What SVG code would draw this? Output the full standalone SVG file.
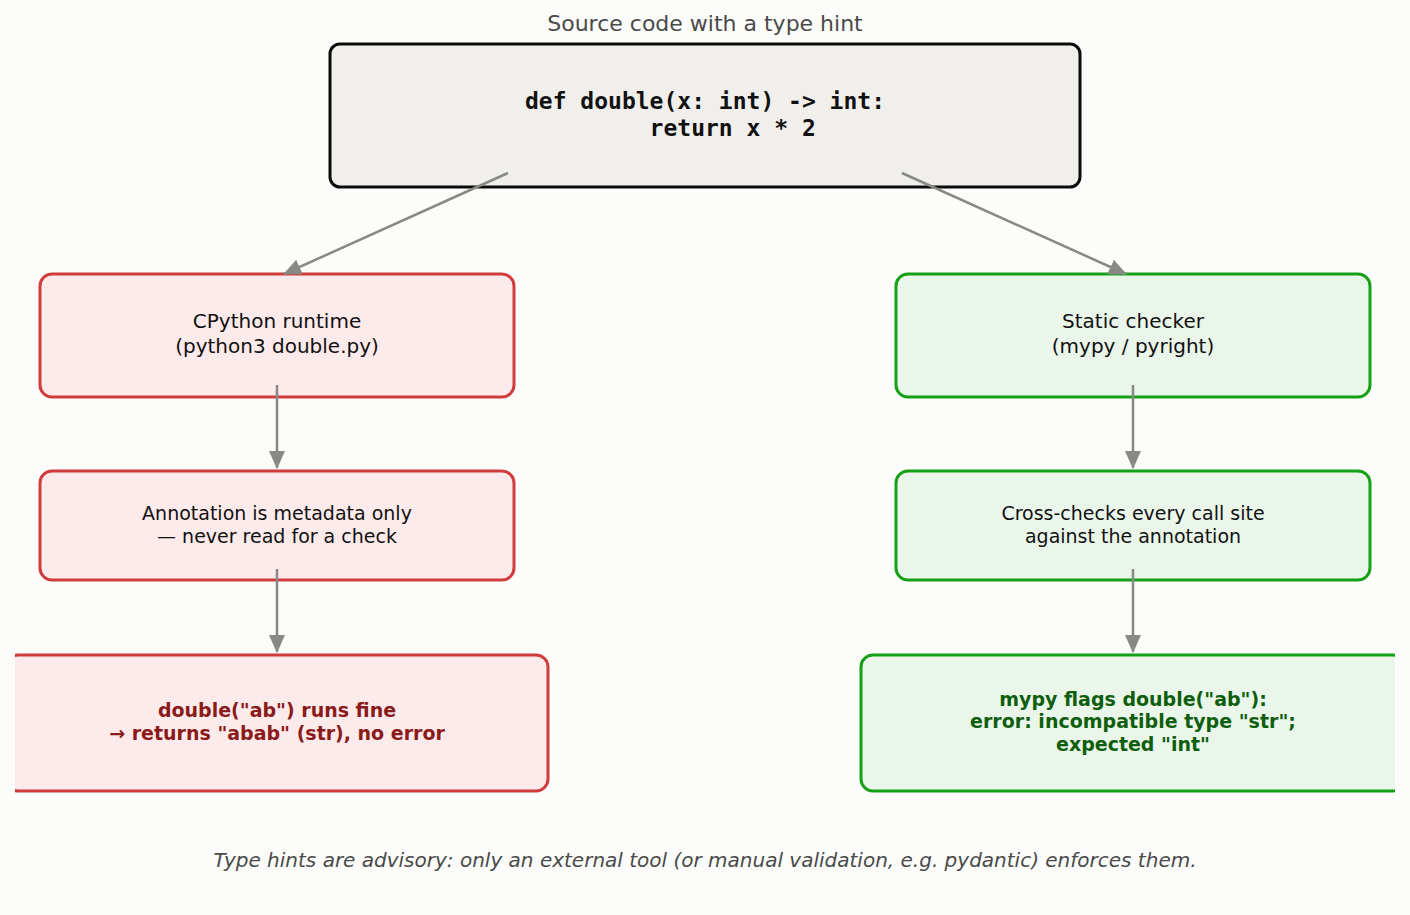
<svg xmlns="http://www.w3.org/2000/svg" width="1410" height="915" viewBox="0 0 1410 915">
<style>
text{font-family:"DejaVu Sans","Liberation Sans",sans-serif;text-anchor:middle}
.title{font-size:22px;fill:#4a4a4a}
.code{font-family:"DejaVu Sans Mono","Liberation Mono",monospace;font-weight:bold;font-size:23px;fill:#111;white-space:pre}
.lg{font-size:20px;fill:#111}
.md{font-size:19px;fill:#111}
.bred{font-size:19px;font-weight:bold;fill:#8b1a1a}
.bgrn{font-size:19px;font-weight:bold;fill:#0e5e0e}
.foot{font-size:20px;font-style:italic;fill:#4a4a4a}
.red{fill:#fdeaea;stroke:#d03c3c;stroke-width:3}
.grn{fill:#eaf6ea;stroke:#15a015;stroke-width:3}
.conn{stroke:#888884;stroke-width:2.5;fill:none;marker-end:url(#ah)}
</style>
<defs>
<marker id="ah" markerUnits="userSpaceOnUse" markerWidth="18" markerHeight="18" viewBox="0 0 18 18" refX="17" refY="9" orient="auto">
<path d="M0,1 L18,9 L0,17 z" fill="#888884"/>
</marker>
<clipPath id="cl"><rect x="15" y="0" width="1380" height="915"/></clipPath>
</defs>
<rect width="1410" height="915" fill="#fcfcfa"/>
<text class="title" x="705" y="30.5">Source code with a type hint</text>
<g clip-path="url(#cl)">
<g id="src">
<rect x="330" y="44" width="750" height="143" rx="10" fill="#f0efeb" stroke="#0a0a0a" stroke-width="3"/>
<text class="code" x="705" y="109" xml:space="preserve">def double(x: int) -&gt; int:</text>
<text class="code" x="705" y="136" xml:space="preserve">    return x * 2</text>
</g>
<g id="runtime">
<rect class="red" x="40" y="274" width="474" height="123" rx="12"/>
<text class="lg" x="277" y="328">CPython runtime</text>
<text class="lg" x="277" y="353">(python3 double.py)</text>
</g>
<g id="metadata">
<rect class="red" x="40" y="471" width="474" height="109" rx="12"/>
<text class="md" x="277" y="519.5">Annotation is metadata only</text>
<text class="md" x="277" y="542.5">— never read for a check</text>
</g>
<g id="runs">
<rect class="red" x="6" y="655" width="542" height="136" rx="12"/>
<text class="bred" x="277" y="716.5">double("ab") runs fine</text>
<text class="bred" x="277" y="739.5">→ returns "abab" (str), no error</text>
</g>
<g id="checker">
<rect class="grn" x="896" y="274" width="474" height="123" rx="12"/>
<text class="lg" x="1133" y="328">Static checker</text>
<text class="lg" x="1133" y="353">(mypy / pyright)</text>
</g>
<g id="crosscheck">
<rect class="grn" x="896" y="471" width="474" height="109" rx="12"/>
<text class="md" x="1133" y="519.5">Cross-checks every call site</text>
<text class="md" x="1133" y="542.5">against the annotation</text>
</g>
<g id="flags">
<rect class="grn" x="861" y="655" width="544" height="136" rx="12"/>
<text class="bgrn" x="1133" y="705.5">mypy flags double("ab"):</text>
<text class="bgrn" x="1133" y="728">error: incompatible type "str";</text>
<text class="bgrn" x="1133" y="750.5">expected "int"</text>
</g>
</g>
<g id="connectors">
<path class="conn" d="M508,173 L284,274"/>
<path class="conn" d="M902,173 L1126,274"/>
<path class="conn" d="M277,385 L277,468"/>
<path class="conn" d="M277,569 L277,652"/>
<path class="conn" d="M1133,385 L1133,468"/>
<path class="conn" d="M1133,569 L1133,652"/>
</g>
<text class="foot" x="705" y="867">Type hints are advisory: only an external tool (or manual validation, e.g. pydantic) enforces them.</text>
</svg>
